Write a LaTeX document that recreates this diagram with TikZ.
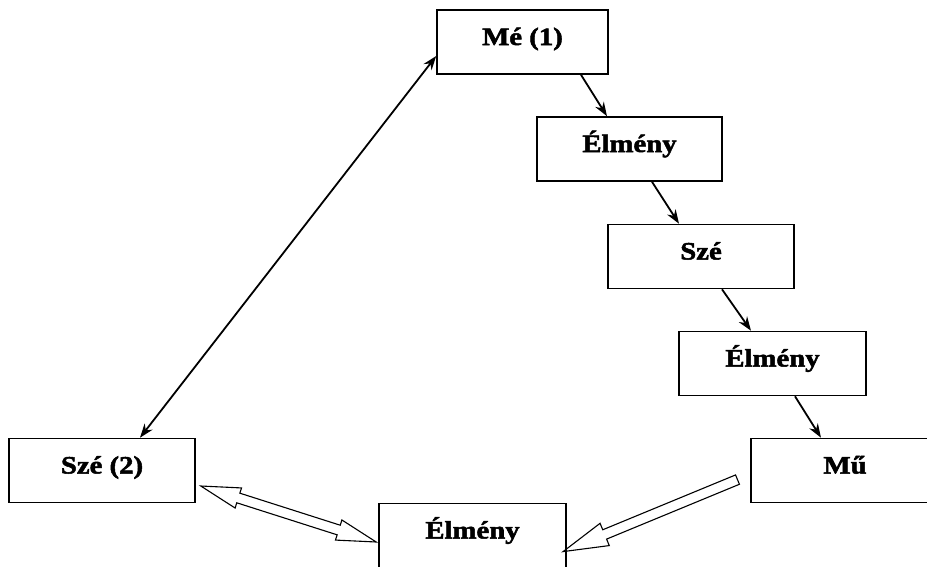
\documentclass[tikz,border=0pt]{standalone}
\usepackage{fontspec}
\newfontfamily\boxfont{Liberation Serif}[FakeStretch=1.15, FakeBold=2]
\usetikzlibrary{calc,positioning,arrows.meta,shapes.arrows}

\tikzset{
  box/.style={draw, line width=1.6pt, minimum height=64pt, inner sep=0pt,
    font={\boxfont\bfseries\fontsize{25pt}{29pt}\selectfont},
    text height=13pt, text depth=7pt},
  link/.style={line width=1.8pt, -{Stealth[length=14pt,width=10pt]}},
  bilink/.style={line width=1.8pt, {Stealth[length=14pt,width=10pt]}-{Stealth[length=14pt,width=10pt]}},
  fatarrow/.style={draw, line width=1.1pt, single arrow, single arrow tip angle=30,
    single arrow head extend=7pt, inner sep=0pt, inner ysep=4.5pt, sloped, allow upside down},
  fatdouble/.style={draw, line width=1.1pt, double arrow, double arrow tip angle=30,
    double arrow head extend=5.5pt, inner sep=0pt, inner ysep=4.5pt, sloped, allow upside down}
}

\begin{document}
\begin{tikzpicture}[x=1pt, y=-1pt]
\clip[use as bounding box] (0,0) rectangle (927,566);

% chain of boxes
\node[box, minimum width=171pt] (me)   at (522.5,42)    {Mé (1)};
\node[box, minimum width=185pt] (elmA) at (629.5,149)   {Élmény};
\node[box, minimum width=186pt] (sze)  at (701,256.5)   {Szé};
\node[box, minimum width=187pt] (elmB) at (772.5,363.5) {Élmény};
\node[box, minimum width=188pt] (mu)   at (845,470.5)   {Mű};
\node[box, minimum width=186pt] (szeB) at (102,470.5)   {Szé (2)};
\node[box, minimum width=187pt] (elmC) at (472.5,535.5) {Élmény};

\draw[link] ([xshift=58.5pt]me.south)  -- ([xshift=-22.5pt]elmA.north);
\draw[link] ([xshift=22.5pt]elmA.south) -- ([xshift=-22pt]sze.north);
\draw[link] ([xshift=21pt]sze.south)   -- ([xshift=-21.5pt]elmB.north);
\draw[link] ([xshift=22.5pt]elmB.south) -- ([xshift=-24pt]mu.north);
\draw[bilink] ([xshift=38pt]szeB.north) -- ([yshift=-14pt]me.west);

% hollow arrows
\path let \p1=([shift={(-4,5.5)}]mu.west), \p2=([shift={(5,12.5)}]elmC.east),
  \n1={veclen(\x2-\x1,\y2-\y1)} in
  (\p1) -- (\p2) node[midway, fatarrow, minimum height=\n1] (hollowA) {};
\path let \p1=([shift={(5,15.5)}]szeB.east), \p2=([shift={(-2,6.5)}]elmC.west),
  \n1={veclen(\x2-\x1,\y2-\y1)} in
  (\p1) -- (\p2) node[midway, fatdouble, minimum height=\n1] (hollowB) {};
\end{tikzpicture}
\end{document}
